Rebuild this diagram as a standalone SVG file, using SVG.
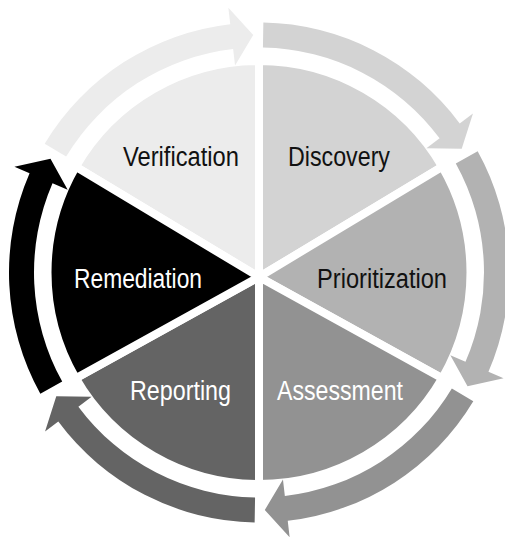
<svg xmlns="http://www.w3.org/2000/svg" width="505" height="543" viewBox="0 0 505 543">
<style>
.slice{stroke:#fff;stroke-width:8;stroke-linejoin:miter}
.lbl{font-family:"Liberation Sans Narrow","Liberation Sans",Arial,sans-serif;font-size:27px;text-anchor:middle}
.dk{fill:#111}
.lt{fill:#fff}
</style>
<rect width="505" height="543" fill="#fff"/>
<g id="verification">
<path class="slice" fill="#ececec" d="M259,277 L75.84,166.75 A211.5,211.5 0 0 1 259,61 Z"/>
<text class="lbl dk" x="181" y="166" textLength="116" lengthAdjust="spacingAndGlyphs">Verification</text>
</g>
<g id="discovery">
<path class="slice" fill="#d3d3d3" d="M259,277 L259,61 A211.5,211.5 0 0 1 442.16,166.75 Z"/>
<text class="lbl dk" x="339" y="166" textLength="102" lengthAdjust="spacingAndGlyphs">Discovery</text>
</g>
<g id="prioritization">
<path class="slice" fill="#b2b2b2" d="M259,277 L442.16,166.75 A211.5,211.5 0 0 1 442.16,378.25 Z"/>
<text class="lbl dk" x="382" y="288" textLength="130" lengthAdjust="spacingAndGlyphs">Prioritization</text>
</g>
<g id="assessment">
<path class="slice" fill="#929292" d="M259,277 L442.16,378.25 A211.5,211.5 0 0 1 259,484 Z"/>
<text class="lbl lt" x="340" y="400" textLength="126" lengthAdjust="spacingAndGlyphs">Assessment</text>
</g>
<g id="reporting">
<path class="slice" fill="#646464" d="M259,277 L259,484 A211.5,211.5 0 0 1 75.84,378.25 Z"/>
<text class="lbl lt" x="180.5" y="400" textLength="101" lengthAdjust="spacingAndGlyphs">Reporting</text>
</g>
<g id="remediation">
<path class="slice" fill="#000" d="M259,277 L75.84,378.25 A211.5,211.5 0 0 1 75.84,166.75 Z"/>
<text class="lbl lt" x="138" y="288" textLength="128" lengthAdjust="spacingAndGlyphs">Remediation</text>
</g>
<g id="connectors">
<path fill="#ececec" d="M44.71,143.74 A250,250 0 0 1 230.26,24.16 L228.37,7.77 L253.2,35.07 L235.04,65.38 L233.14,48.99 A225,225 0 0 0 66.14,156.62 Z"/>
<path fill="#d3d3d3" d="M263.36,22.54 A250,250 0 0 1 459.71,123.44 L472.95,113.6 L461.72,148.76 L426.39,148.19 L439.63,138.35 A225,225 0 0 0 262.93,47.53 Z"/>
<path fill="#b2b2b2" d="M477.66,151.3 A250,250 0 0 1 488.44,371.79 L503.58,378.34 L467.52,386.19 L450.35,355.31 L465.49,361.86 A225,225 0 0 0 455.79,163.42 Z"/>
<path fill="#929292" d="M473.29,401.26 A250,250 0 0 1 287.74,520.84 L289.63,537.23 L264.8,509.93 L282.96,479.62 L284.86,496.01 A225,225 0 0 0 451.86,388.38 Z"/>
<path fill="#646464" d="M254.64,522.46 A250,250 0 0 1 58.29,421.56 L45.05,431.4 L56.28,396.24 L91.61,396.81 L78.37,406.65 A225,225 0 0 0 255.07,497.47 Z"/>
<path fill="#000" d="M40.34,393.7 A250,250 0 0 1 29.56,173.21 L14.42,166.66 L50.48,158.81 L67.65,189.69 L52.51,183.14 A225,225 0 0 0 62.21,381.58 Z"/>
</g>
</svg>
